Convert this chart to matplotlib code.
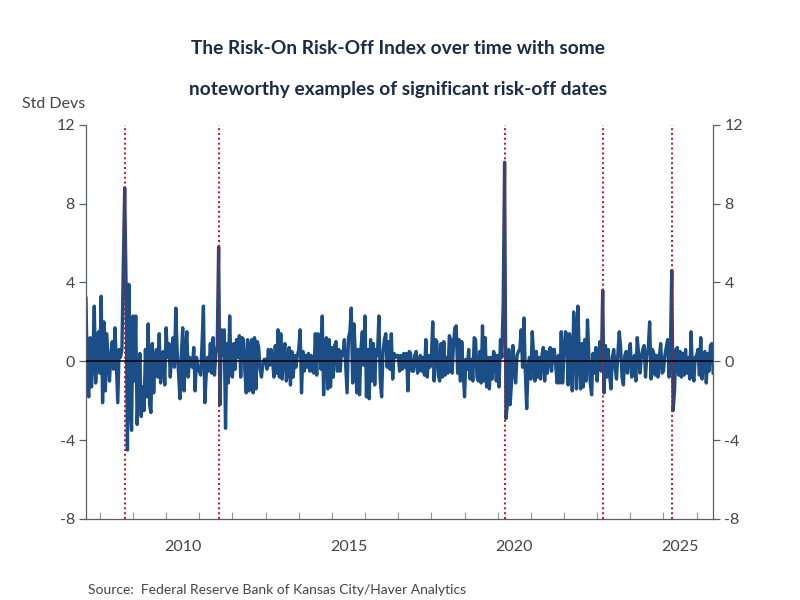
import numpy as np
import matplotlib
matplotlib.use("Agg")
import matplotlib.pyplot as plt

# Risk-On Risk-Off index, std devs (about two readings per month)
vals_2007 = [3.2, -1.1, -1.8, 1.2, -1.3, 0.3, 2.8, -1.1, 0.5, 1.5]
vals_2008 = [-0.6, 3.3, -2.1, 2.0, -1.5, 1.4, 0.2, -1.0, 0.3, 1.0, -0.4, 1.7,
             -0.2, -2.1, 0.6, 0.2, 0.6, 4.9, 8.8, 3.9, -4.5, 3.9, -2.2, -3.5]
vals_2009 = [2.3, -1.0, 2.3, -3.2, -1.1, 0.4, -2.8, -1.3, -2.5, 0.6, -1.8, 1.9,
             -2.2, -2.6, 0.9, -1.6, 0.2, 0.6, -0.8, 1.4, -1.1, 0.3, 0.5, -1.2]
vals_2010 = [1.7, 0.2, 0.9, -0.8, 0.4, 1.2, -0.3, 2.7, 0.5, -0.6, -1.9, 0.3,
             1.7, -1.5, 0.6, 1.5, -0.8, 0.2, 0.1, -0.3, 0.7, -1.5, 0.2, -0.3]
vals_2011 = [-0.5, -0.7, 0.9, 2.8, -2.1, -0.7, 0.2, -0.5, 0.9, -0.6, 1.2, -0.7,
             0.4, 0.8, 5.8, -2.2, 1.6, 0.3, 1.6, -3.4, 0.9, -1.1, 2.3, -0.6]
vals_2012 = [-0.8, 0.9, -0.4, 1.1, 0.2, 1.3, -0.8, 1.2, 1.1, -0.5, -1.6, 1.1,
             -1.5, 0.6, 1.1, -1.6, 1.2, -1.4, 1.0, 0.7, -0.4, -0.8, -0.2, 0.1]
vals_2013 = [0.1, -0.4, 0.6, -0.2, 0.6, 0.1, -0.8, 0.8, -0.6, 1.6, -0.8, 1.4,
             -0.9, 0.5, 0.9, -1.0, -0.5, 0.7, -1.2, 0.5, -0.8, 0.3, -0.3, 0.3]
vals_2014 = [0.6, 1.6, -1.6, 0.5, -0.5, 0.3, -0.3, 0.4, -0.5, 0.3, -0.5, -0.6,
             1.4, -0.7, 1.4, 1.2, -0.4, 2.3, -1.7, 0.8, 1.2, -1.4, 1.1, -1.3]
vals_2015 = [0.7, -0.8, 0.8, 1.0, -0.5, 0.6, -0.5, 0.5, 0.3, 1.1, -0.2, -1.6,
             1.2, 1.5, 2.7, -1.1, 1.9, 0.3, -1.6, 0.6, -1.7, 0.6, 1.5, -0.2]
vals_2016 = [2.3, -1.8, 0.6, -1.9, 1.1, -1.0, 0.9, -1.2, 0.6, 0.3, 2.3, -1.0,
             -1.8, 0.5, 1.1, 1.4, -0.3, 1.0, -0.4, 1.4, -0.9, 0.4, 0.2, 0.3]
vals_2017 = [0.3, -0.5, 0.3, -0.4, 0.4, -0.3, 0.4, -1.5, 0.5, 0.4, -0.5, -0.5,
             0.3, 0.5, -0.6, -0.4, 0.3, -0.5, 0.2, -0.7, 1.1, -0.8, 0.3, -0.3]
vals_2018 = [0.2, 2.0, -1.0, 1.1, 1.0, -0.7, -1.0, 0.9, -0.8, 1.0, -0.7, 0.2,
             -0.6, 1.3, 1.1, -0.6, 0.8, 1.7, 1.8, -0.6, 1.1, -1.0, 1.0, -0.5]
vals_2019 = [-1.8, 0.1, -0.4, 0.6, -0.9, 0.1, -1.0, 1.2, 1.1, -0.8, -1.0, 0.5,
             -1.1, 1.8, -1.0, 1.2, -1.3, 0.2, -1.4, 0.2, -0.9, 0.5, 0.3, -1.0]
vals_2020 = [0.3, -1.3, 1.1, 0.2, 3.0, 10.1, -2.9, -2.2, 0.6, -2.2, -1.1, 0.8,
             -0.4, -1.1, 0.3, 0.5, 0.6, 1.6, -0.3, 2.2, -0.5, -2.4, -0.3, 0.2]
vals_2021 = [-0.9, 1.5, 0.3, -1.0, 0.5, -0.8, 0.2, -0.9, 0.3, 0.7, -1.0, 0.5,
             -0.6, 0.3, 0.7, -0.5, 0.6, 0.6, -0.2, -1.1, 0.3, -1.1, 1.5, -1.1]
vals_2022 = [0.3, 1.5, 1.4, -1.2, 1.4, 0.2, -1.5, 2.5, 1.2, -1.4, 2.8, 0.5,
             -1.4, 0.9, -1.3, 1.1, -1.0, 2.1, 0.3, -1.1, -1.7, 0.4, -0.6, 0.7]
vals_2023 = [-1.0, 0.2, 1.0, -0.5, 3.6, -1.6, 0.8, -0.8, 0.6, -0.7, -1.4, 0.2,
             0.6, -0.3, -0.9, 0.4, 1.5, 0.7, -0.8, -1.2, 0.3, 0.5, -0.6, 0.4]
vals_2024 = [0.9, -0.8, -0.7, 0.3, -1.0, 1.2, 0.4, -0.6, 0.2, 0.6, 0.8, -0.8,
             0.3, 0.7, 2.0, -0.9, 0.6, 0.4, -0.7, 0.3, -0.8, 0.2, 0.9, -0.6]
vals_2025 = [-0.5, 0.3, 0.7, 1.1, -0.8, 0.5, 4.6, -2.5, -1.5, 0.6, 0.7, -0.7,
             0.5, -0.8, 0.4, -0.7, 0.6, -0.6, 0.2, -0.9, 1.5, -0.5, -1.0, 0.2]
vals_2026 = [0.3, 0.6, -0.7, 1.2, -0.9, 0.3, 0.5, -1.1, 0.4, -0.5, 0.8, 0.9, -0.6]

start_year = 2007 + 14 / 24      # first reading: start of Aug 2007
per_year = 24

# risk-off dates marked with red dotted lines
event_years = [2008.75, 2011.58, 2020.21, 2023.17, 2025.25]

year_ticks = list(range(2008, 2027))
year_labels = [2010, 2015, 2020, 2025]
y_ticks = [-8, -4, 0, 4, 8, 12]

values = np.concatenate([vals_2007, vals_2008, vals_2009, vals_2010, vals_2011,
                         vals_2012, vals_2013, vals_2014, vals_2015, vals_2016,
                         vals_2017, vals_2018, vals_2019, vals_2020, vals_2021,
                         vals_2022, vals_2023, vals_2024, vals_2025, vals_2026])
x = start_year + np.arange(len(values)) / per_year

navy = "#1a2b48"
grey = "#444444"
spine_col = "#56606b"

plt.rcParams['font.family'] = ['Lato', 'DejaVu Sans']

fig = plt.figure(figsize=(8, 6), dpi=100)
ax = fig.add_axes([0.1075, 0.135, 0.784, 0.657])

ax.plot(x, values, color="#1b4d87", lw=2.4, zorder=2)
ax.axhline(0, color="black", lw=1.1, zorder=3)
for ev in event_years:
    ax.axvline(ev, color="#c0101e", ls=(0, (1, 1.5)), lw=1.4, zorder=4)

ax.set_xlim(x[0], x[-1])
ax.set_ylim(-8, 12)
ax.set_yticks(y_ticks)
ax.set_yticklabels([str(v) for v in y_ticks])
ax.tick_params(axis="y", direction="out", length=5, width=0.9, color=spine_col,
               left=True, right=True, labelleft=True, labelright=True,
               labelsize=11.5, labelcolor=grey, pad=3)

ax.set_xticks(year_ticks)
ax.set_xticklabels([])
ax.set_xticks([yr + 0.5 for yr in year_labels], minor=True)
ax.set_xticklabels([str(yr) for yr in year_labels], minor=True)
ax.tick_params(axis="x", which="major", direction="in", length=5, width=0.8, color="#8a929a")
ax.tick_params(axis="x", which="minor", length=0, labelsize=11.5, labelcolor=grey, pad=15)

ax.spines["top"].set_visible(False)
for side in ["left", "right", "bottom"]:
    ax.spines[side].set_color(spine_col)
    ax.spines[side].set_linewidth(0.9)

fig.text(0.498, 1 - 48 / 600, "The Risk-On Risk-Off Index over time with some",
         ha="center", va="center", fontsize=13.8, fontweight="bold", color=navy)
fig.text(0.498, 1 - 90 / 600, "noteworthy examples of significant risk-off dates",
         ha="center", va="center", fontsize=13.8, fontweight="bold", color=navy)
fig.text(22 / 800, 1 - 104 / 600, "Std Devs", ha="left", va="center",
         fontsize=11.5, color=grey)
fig.text(88 / 800, 1 - 590 / 600,
         "Source:  Federal Reserve Bank of Kansas City/Haver Analytics",
         ha="left", va="center", fontsize=10, color=grey)

fig.savefig("out.png", dpi=100)
